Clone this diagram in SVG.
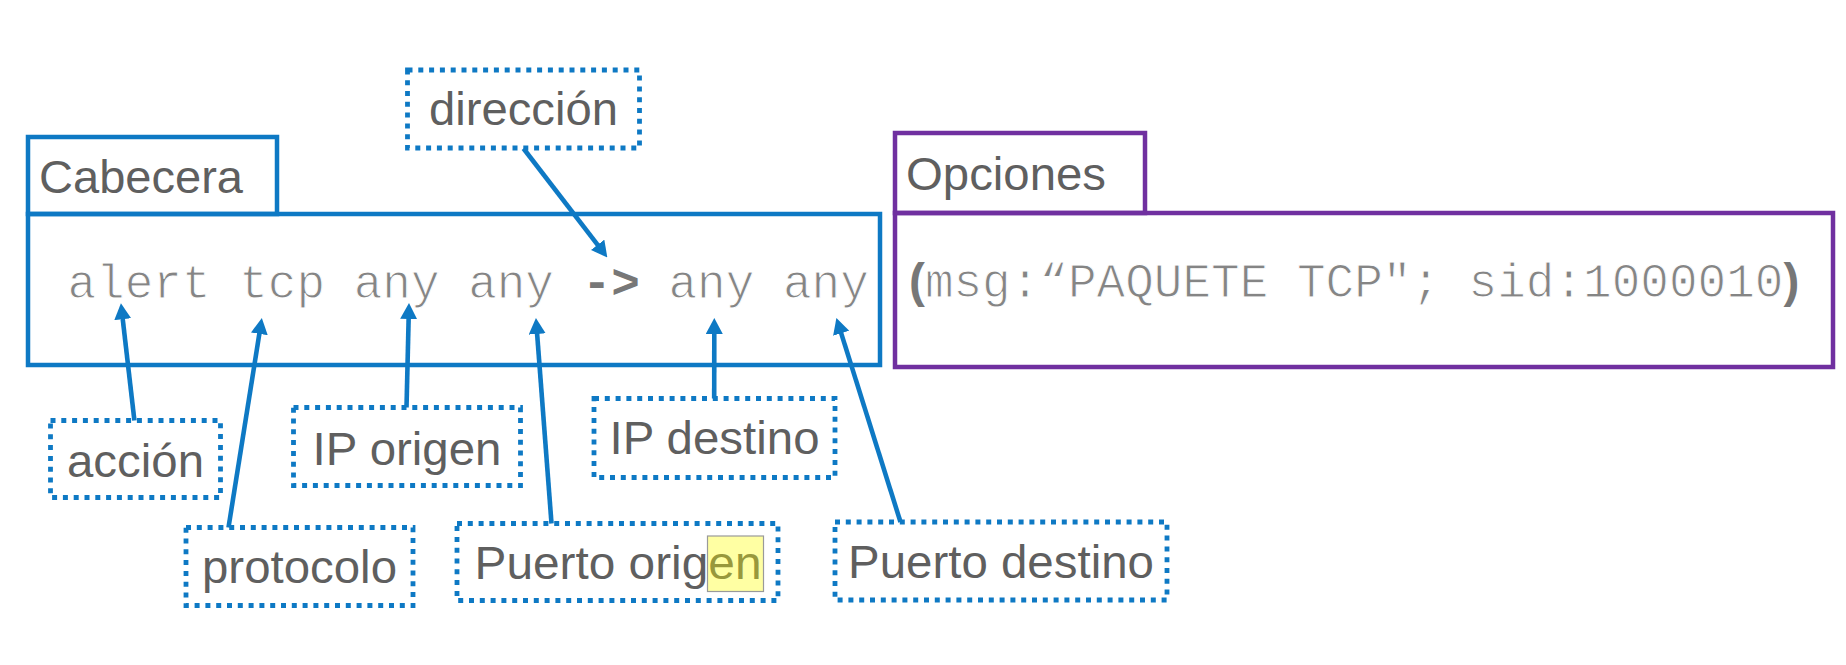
<svg xmlns="http://www.w3.org/2000/svg" width="1846" height="665" viewBox="0 0 1846 665">
<style>
.bg{fill:#ffffff}
.hdr{fill:none;stroke:#0e79c4;stroke-width:4.5}
.opt{fill:none;stroke:#7030a0;stroke-width:4.5}
.lbl{fill:none;stroke:#0e79c4;stroke-width:4.8;stroke-dasharray:5 5.8}
.t{font-family:"Liberation Sans",Arial,sans-serif;font-size:46px;fill:#5f5f5f;text-anchor:middle}
.tl{font-family:"Liberation Sans",Arial,sans-serif;font-size:46px;fill:#5f5f5f}
.mono{font-family:"Liberation Mono","Courier New",monospace;font-size:47.7px;fill:#858585;stroke:#ffffff;stroke-width:1}
.b{font-weight:bold;fill:#777777;stroke:none}
.par{font-family:"Liberation Sans",Arial,sans-serif;font-weight:bold;fill:#777777;stroke:none}
.con{fill:none;stroke:#0e79c4;stroke-width:4.6}
</style>
<defs>
<marker id="ah" viewBox="0 0 16 17" refX="3" refY="8.5" markerWidth="16" markerHeight="17" markerUnits="userSpaceOnUse" orient="auto">
<path d="M0,0 L16,8.5 L0,17 z" fill="#0e79c4"/>
</marker>
</defs>
<rect class="bg" x="0" y="0" width="1846" height="665"/>

<g id="cabecera">
<rect class="hdr" x="28" y="137" width="249" height="77"/>
<rect class="hdr" x="28" y="214" width="852" height="151"/>
<text class="tl" x="39" y="193" textLength="204" lengthAdjust="spacingAndGlyphs">Cabecera</text>
<text class="mono" x="67.5" y="298">alert tcp any any <tspan class="b">-&gt;</tspan> any any</text>
</g>

<g id="opciones">
<rect class="opt" x="895" y="133" width="250" height="80"/>
<rect class="opt" x="895" y="213" width="938" height="154"/>
<text class="tl" x="906" y="190" textLength="200" lengthAdjust="spacingAndGlyphs">Opciones</text>
<text class="mono" x="909" y="297"><tspan class="par">(</tspan>msg:“PAQUETE TCP"; sid:1000010<tspan class="par">)</tspan></text>
</g>

<g id="direccion">
<rect class="lbl" x="407.5" y="70" width="232" height="78"/>
<text class="t" x="523.5" y="125" textLength="189" lengthAdjust="spacingAndGlyphs">dirección</text>
</g>

<g id="accion">
<rect class="lbl" x="50.5" y="420.5" width="170" height="77"/>
<text class="t" x="135.5" y="477" textLength="137" lengthAdjust="spacingAndGlyphs">acción</text>
</g>

<g id="ip-origen">
<rect class="lbl" x="293.5" y="407.5" width="227" height="78"/>
<text class="t" x="407" y="465" textLength="189" lengthAdjust="spacingAndGlyphs">IP origen</text>
</g>

<g id="ip-destino">
<rect class="lbl" x="594" y="398.5" width="241" height="79"/>
<text class="t" x="714.5" y="454" textLength="210" lengthAdjust="spacingAndGlyphs">IP destino</text>
</g>

<g id="protocolo">
<rect class="lbl" x="186" y="527.5" width="227" height="78"/>
<text class="t" x="299.5" y="583" textLength="195" lengthAdjust="spacingAndGlyphs">protocolo</text>
</g>

<g id="puerto-origen">
<rect class="lbl" x="457" y="523.5" width="321" height="77"/>
<text class="t" x="618" y="579" textLength="287" lengthAdjust="spacingAndGlyphs">Puerto origen</text>
<rect x="707.5" y="536" width="56" height="55.5" fill="#ffff00" fill-opacity="0.36" stroke="#9a9a9a" stroke-width="1.2"/>
</g>

<g id="puerto-destino">
<rect class="lbl" x="835" y="522" width="332" height="78"/>
<text class="t" x="1001" y="578" textLength="306" lengthAdjust="spacingAndGlyphs">Puerto destino</text>
</g>

<g id="connectors">
<line class="con" x1="523.5" y1="148.5" x2="599.4" y2="247.2" marker-end="url(#ah)"/>
<line class="con" x1="134.4" y1="420.5" x2="122.4" y2="316.2" marker-end="url(#ah)"/>
<line class="con" x1="228.5" y1="527.5" x2="259.8" y2="330.9" marker-end="url(#ah)"/>
<line class="con" x1="406.5" y1="407.5" x2="408.7" y2="316" marker-end="url(#ah)"/>
<line class="con" x1="551.5" y1="523.5" x2="536.9" y2="331" marker-end="url(#ah)"/>
<line class="con" x1="714.2" y1="398.5" x2="714.3" y2="331" marker-end="url(#ah)"/>
<line class="con" x1="900.5" y1="522" x2="840.3" y2="330.4" marker-end="url(#ah)"/>
</g>
</svg>
